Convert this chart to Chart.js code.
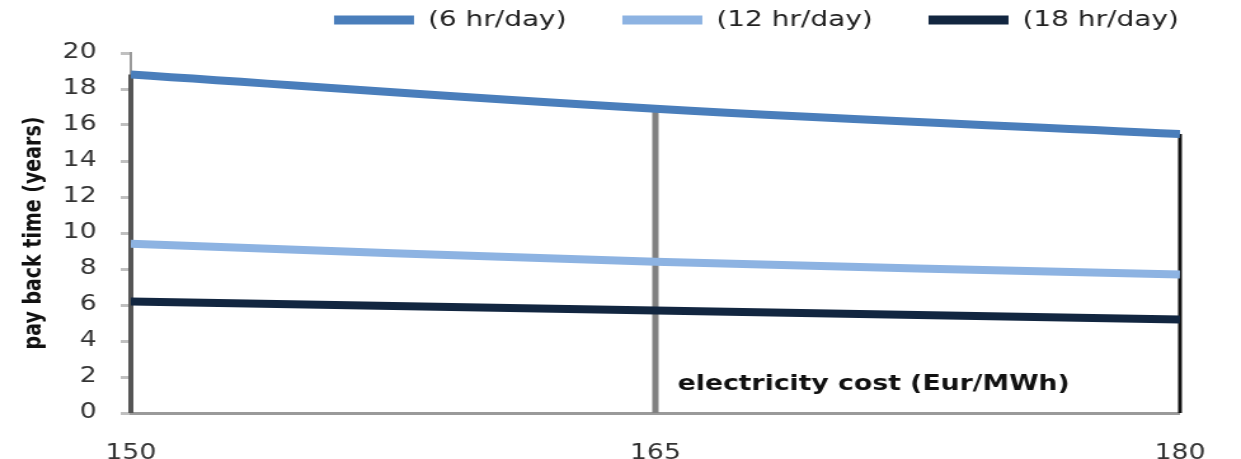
<!DOCTYPE html>
<html>
<head>
<meta charset="utf-8">
<script src="https://cdn.jsdelivr.net/npm/chart.js@4.4.1/dist/chart.umd.min.js"></script>
<style>
  html, body { margin: 0; padding: 0; background: #fff; overflow: hidden; }
  #caja { width: 977px; height: 459px; transform: scaleX(1.2702); transform-origin: 0 0; }
</style>
</head>
<body>
<div id="caja"><canvas id="grafica-payback"></canvas></div>
<script>
// data
var costos = [150, 165, 180];
var horas6 = [18.8, 16.9, 15.5];
var horas12 = [9.4, 8.4, 7.7];
var horas18 = [6.2, 5.7, 5.2];
var etiquetas = ["(6 hr/day)", "(12 hr/day)", "(18 hr/day)"];
var ticksy = [0, 2, 4, 6, 8, 10, 12, 14, 16, 18, 20];
var ticksx = [150, 165, 180];

function puntos(valores) {
  return costos.map(function (c, i) { return { x: c, y: valores[i] }; });
}

// drop lines from the top series down to zero + axis title inside the plot
var lineasverticales = {
  id: "lineasverticales",
  beforeDatasetsDraw: function (chart) {
    var ctx = chart.ctx;
    var x = chart.scales.x, y = chart.scales.y;
    var colores = ["#555555", "#808080", "#111111"];
    var anchos = [4, 5, 3];
    ctx.save();
    costos.forEach(function (c, i) {
      var px = x.getPixelForValue(c);
      ctx.beginPath();
      ctx.strokeStyle = colores[i];
      ctx.lineWidth = anchos[i];
      ctx.moveTo(px, y.getPixelForValue(horas6[i]));
      ctx.lineTo(px, y.getPixelForValue(0));
      ctx.stroke();
    });
    ctx.restore();
  },
  afterDraw: function (chart) {
    var ctx = chart.ctx, a = chart.chartArea;
    ctx.save();
    ctx.font = "bold 21px 'DejaVu Sans'";
    ctx.fillStyle = "#111";
    ctx.textAlign = "center";
    ctx.textBaseline = "middle";
    ctx.fillText("electricity cost (Eur/MWh)", a.left + 0.708 * (a.right - a.left), a.bottom - 28);
    ctx.restore();
  },
  beforeLayout: function (chart) {
    var leyenda = chart.legend;
    if (leyenda && !leyenda._parchada) {
      var fit = leyenda.fit;
      leyenda.fit = function () { fit.call(this); this.height = 88; };
      leyenda._parchada = true;
    }
  },
  afterLayout: function (chart) {
    if (chart.legend) { chart.legend.right = 972; }
  }
};

var graficacontexto = document.getElementById("grafica-payback");
var grafica = new Chart(graficacontexto, {
  type: "line",
  data: {
    datasets: [{
      label: etiquetas[0],
      data: puntos(horas6),
      borderColor: "rgb(74, 126, 187)",
      backgroundColor: "rgb(74, 126, 187)",
      borderWidth: 8,
      pointRadius: 0,
      tension: 0.4
    }, {
      label: etiquetas[1],
      data: puntos(horas12),
      borderColor: "rgb(141, 179, 226)",
      backgroundColor: "rgb(141, 179, 226)",
      borderWidth: 8,
      pointRadius: 0,
      tension: 0.4
    }, {
      label: etiquetas[2],
      data: puntos(horas18),
      borderColor: "rgb(18, 38, 64)",
      backgroundColor: "rgb(18, 38, 64)",
      borderWidth: 8,
      pointRadius: 0,
      tension: 0.4
    }]
  },
  options: {
    responsive: true,
    maintainAspectRatio: false,
    animation: false,
    devicePixelRatio: 1,
    layout: { padding: { top: -35, right: 45, left: 0, bottom: 0 } },
    plugins: {
      tooltip: { enabled: false },
      legend: {
        position: "top",
        align: "end",
        labels: {
          boxWidth: 63,
          boxHeight: 9,
          padding: 44,
          color: "#222",
          font: { family: "'DejaVu Sans'", size: 22 },
          generateLabels: function (chart) {
            var items = Chart.defaults.plugins.legend.labels.generateLabels(chart);
            items.forEach(function (it) { it.lineWidth = 0; });
            return items;
          }
        }
      }
    },
    scales: {
      x: {
        type: "linear",
        min: ticksx[0],
        max: ticksx[ticksx.length - 1],
        afterBuildTicks: function (s) { s.ticks = ticksx.map(function (v) { return { value: v }; }); },
        afterFit: function (s) { s.height = 46; },
        grid: { display: true, drawOnChartArea: false, drawTicks: false },
        border: { display: true, color: "#9a9a9a", width: 3 },
        ticks: { color: "#333", padding: 28, font: { family: "'DejaVu Sans'", size: 21 } }
      },
      y: {
        min: 0,
        max: 20,
        afterBuildTicks: function (s) { s.ticks = ticksy.map(function (v) { return { value: v }; }); },
        afterFit: function (s) { s.width = 103; },
        grid: { display: true, drawOnChartArea: false, drawTicks: true, tickLength: 8, color: "#c0c0c0", lineWidth: 3 },
        border: { display: true, color: "#9a9a9a", width: 2 },
        ticks: { color: "#333", padding: 19, font: { family: "'DejaVu Sans'", size: 21 } },
        title: {
          display: true,
          text: "pay back time (years)",
          color: "#111",
          padding: { top: 16, bottom: 4 },
          font: { family: "'DejaVu Sans'", size: 19, weight: "bold" }
        }
      }
    }
  },
  plugins: [lineasverticales]
});
</script>
</body>
</html>
